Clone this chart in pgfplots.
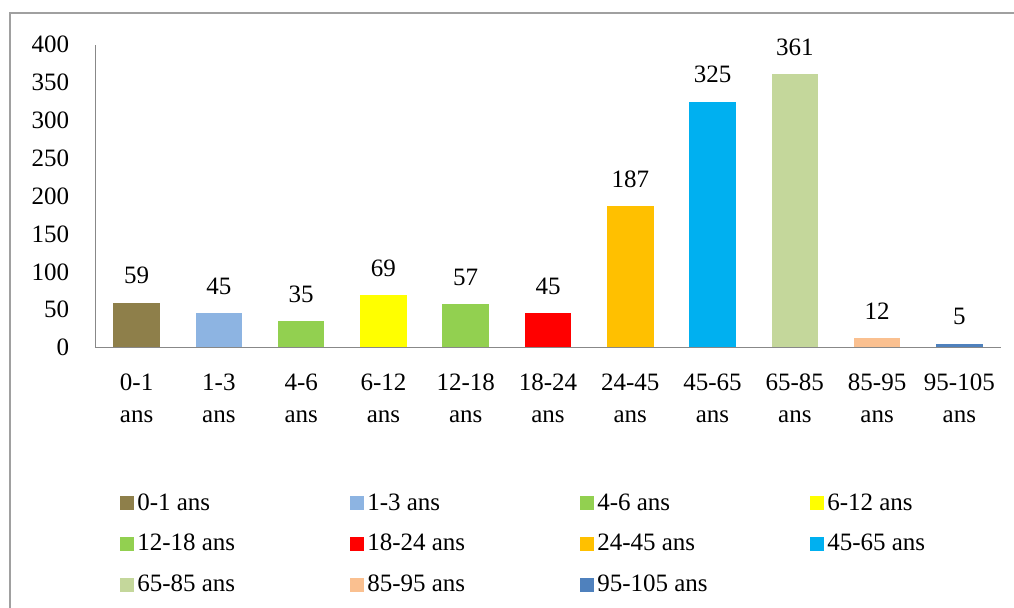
\documentclass[border=0pt]{standalone}
\usepackage{pgfplots}
\pgfplotsset{compat=1.18}
\usepackage{fontspec}
\setmainfont{Liberation Serif}
\definecolor{c01}{HTML}{8E7F4A}
\definecolor{c13}{HTML}{8DB4E2}
\definecolor{c46}{HTML}{92D050}
\definecolor{c612}{HTML}{FFFF00}
\definecolor{c1218}{HTML}{92D050}
\definecolor{c1824}{HTML}{FF0000}
\definecolor{c2445}{HTML}{FFC000}
\definecolor{c4565}{HTML}{00B0F0}
\definecolor{c6585}{HTML}{C4D79B}
\definecolor{c8595}{HTML}{FAC090}
\definecolor{c95105}{HTML}{4F81BD}
\definecolor{axgray}{HTML}{888888}
\newcommand{\lb}[1]{\makebox[105pt][l]{#1}}
\begin{document}
\begin{tikzpicture}
\useasboundingbox (0,0) rectangle (507pt,-304pt);
\draw[axgray!80, line width=1pt] (5pt,-304pt) -- (5pt,-6.5pt) -- (507pt,-6.5pt);
\begin{axis}[
  at={(47.75pt,-173.75pt)}, anchor=south west,
  scale only axis, width=452.5pt, height=151.35pt,
  font=\fontsize{12.5pt}{16pt}\selectfont,
  /pgf/number format/assume math mode=true,
  ybar, bar shift=0pt, bar width=23.3pt,
  xmin=-0.5, xmax=10.5, ymin=0, ymax=400,
  axis x line=bottom, axis y line=left,
  axis line style={-, draw=axgray, line width=0.75pt},
  ytick={0,50,...,400}, xtick={0,...,10},
  major tick length=0pt,
  xticklabels={{0-1\\ans},{1-3\\ans},{4-6\\ans},{6-12\\ans},{12-18\\ans},{18-24\\ans},{24-45\\ans},{45-65\\ans},{65-85\\ans},{85-95\\ans},{95-105\\ans}},
  xticklabel style={align=center, yshift=-9.8pt},
  yticklabel style={xshift=-9.6pt},
  nodes near coords,
  nodes near coords style={yshift=5.8pt, font=\fontsize{12.5pt}{16pt}\selectfont, text=black},
  every axis plot/.append style={draw=none},
  legend columns=4,
  legend cell align=left,
  legend image code/.code={\fill[#1] (0pt,-3.5pt) rectangle (7pt,3.5pt);},
  legend style={at={(0.027,-0.471)}, anchor=north west, draw=none, fill=none,
    inner sep=0pt, row sep=7.5pt, font=\fontsize{12.5pt}{16pt}\selectfont,
    nodes={inner sep=1.5pt}},
]
\addplot[fill=c01] coordinates {(0,59)};
\addplot[fill=c13] coordinates {(1,45)};
\addplot[fill=c46] coordinates {(2,35)};
\addplot[fill=c612] coordinates {(3,69)};
\addplot[fill=c1218] coordinates {(4,57)};
\addplot[fill=c1824] coordinates {(5,45)};
\addplot[fill=c2445] coordinates {(6,187)};
\addplot[fill=c4565] coordinates {(7,325)};
\addplot[fill=c6585] coordinates {(8,361)};
\addplot[fill=c8595] coordinates {(9,12)};
\addplot[fill=c95105] coordinates {(10,5)};
\legend{\lb{0-1 ans},\lb{1-3 ans},\lb{4-6 ans},\lb{6-12 ans},\lb{12-18 ans},\lb{18-24 ans},\lb{24-45 ans},\lb{45-65 ans},\lb{65-85 ans},\lb{85-95 ans},\lb{95-105 ans}}
\end{axis}
\end{tikzpicture}
\end{document}
